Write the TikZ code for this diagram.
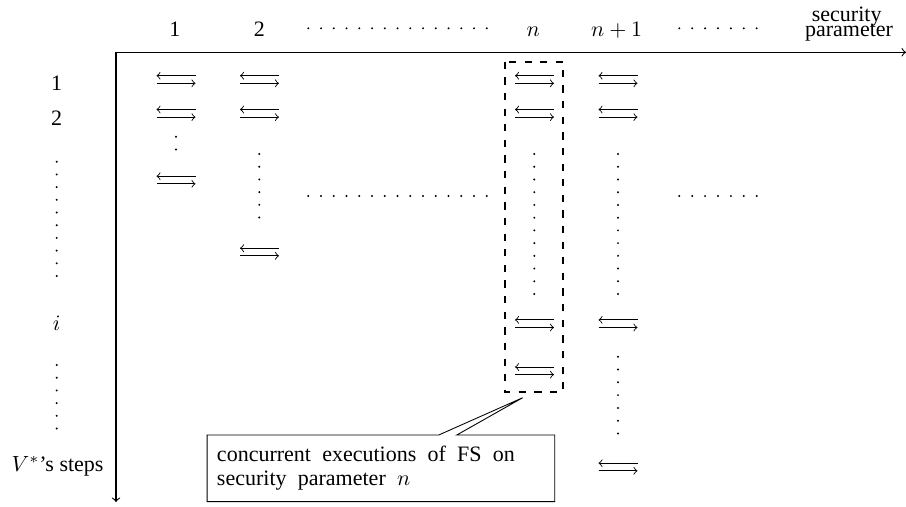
\documentclass[tikz,border=0pt]{standalone}
\usepackage[no-math]{fontspec}
\setmainfont{Liberation Serif}
\usetikzlibrary{shapes.callouts}
\newcommand\widespacing{\spaceskip=5.1pt plus 1pt minus 0.5pt\relax}
\begin{document}
\begin{tikzpicture}[x=0.4545pt,y=-0.4545pt,
  font=\fontsize{10}{11}\selectfont,
  lbl/.style={inner sep=0pt, anchor=base},
  thinline/.style={line width=0.4pt},
  fsdash/.style={line width=0.9pt, dash pattern=on 3.3pt off 3.8pt},
  note/.style={rectangle callout, draw, line width=0.4pt, text width=149pt,
    align=left, inner xsep=4.5pt, inner ysep=2pt, minimum height=30.3pt,
    callout pointer width=8.2pt,
    font=\fontsize{10}{10.9}\selectfont},
  xchg/.pic={\draw[<-,thinline] (-19.5,-3.8) -- (19.5,-3.8);
             \draw[->,thinline] (-19.5,3.8) -- (19.5,3.8);}
]
\useasboundingbox (0,0) rectangle (906,506);

% axes
\coordinate (O) at (116,52.3);
\coordinate (xend) at (906,52.3);
\coordinate (yend) at (116,502);
\draw[line width=0.5pt,<->] (xend) -- (O) -- (yend);

% column headers
\node[lbl] (h1) at (175,36.7) {1};
\node[lbl] (h2) at (259.3,36.7) {2};
\node[lbl] (hn) at (533.3,36.5) {$n$};
\node[lbl] (hn1) at (616.7,36.5) {$n+1$};
\node[lbl] (sec1) at (846.7,21) {security};
\node[lbl] (sec2) at (849,36.3) {parameter};
\foreach \k in {0,...,14} \fill ({308.3+12.75*\k},28.3) circle (0.5pt);
\foreach \k in {0,...,6} \fill ({679.3+12.9*\k},28.3) circle (0.5pt);

% row labels
\node[lbl] (r1) at (56.7,90.7) {1};
\node[lbl] (r2) at (56.7,125.5) {2};
\node[lbl] (ri) at (56.7,330) {$i$};
\node[lbl,anchor=base east] (rv) at (104,471) {$V^*$'s steps};
\foreach \k in {0,...,9} \fill (56.7,{161.7+12.7*\k}) circle (0.5pt);
\foreach \k in {0,...,5} \fill (56.7,{365+12.7*\k}) circle (0.5pt);

% column 1
\foreach \y in {79.5,113.3,180} \pic at (176,\y) {xchg};
\foreach \k in {0,1} \fill (176,{136.7+12.7*\k}) circle (0.5pt);

% column 2
\foreach \y in {79.5,113.3,252} \pic at (259.5,\y) {xchg};
\foreach \k in {0,...,5} \fill (259.3,{154+12.7*\k}) circle (0.5pt);

% middle horizontal dots
\foreach \k in {0,...,14} \fill ({308.3+12.75*\k},196) circle (0.5pt);
\foreach \k in {0,...,6} \fill ({679.3+12.9*\k},196) circle (0.5pt);

% column n
\foreach \y in {79.5,113.3,323.7,370.8} \pic at (534.5,\y) {xchg};
\foreach \k in {0,...,11} \fill (534.3,{154+12.73*\k}) circle (0.5pt);

% column n+1
\foreach \y in {79.5,113.3,323.7,467} \pic at (618,\y) {xchg};
\foreach \k in {0,...,11} \fill (618,{154+12.73*\k}) circle (0.5pt);
\foreach \k in {0,...,6} \fill (618,{356.7+12.8*\k}) circle (0.5pt);

% dashed box around column n
\draw[fsdash] (505,61.7) rectangle (563.3,391.7);
\coordinate (tip) at (522.7,397.7);

% callout
\node[note, callout absolute pointer={(tip)}] (cap) at (380.9,468.3)
  {\widespacing concurrent executions of FS on\\security parameter $n$};
\end{tikzpicture}
\end{document}
